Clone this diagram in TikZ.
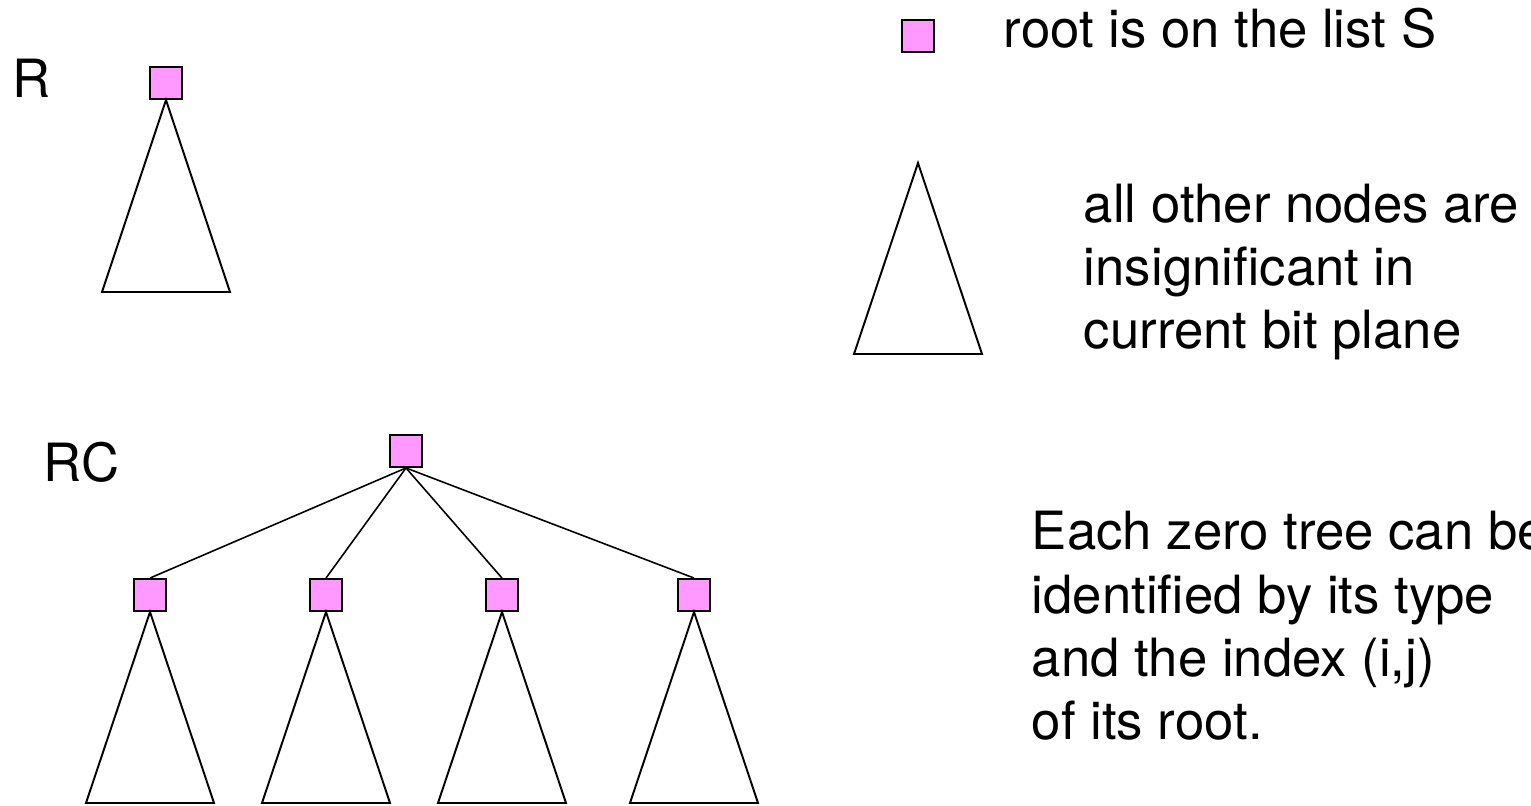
\documentclass[tikz,border=0pt]{standalone}
\usepackage{fontspec}
\setmainfont{TeX Gyre Heros}
\usepackage{tikz}
\usetikzlibrary{positioning}
\definecolor{rootpink}{HTML}{FF99FF}

\begin{document}
\begin{tikzpicture}[
        x=0.02cm, y=-0.02cm, % one unit per pixel, y down
        line width=1.1pt,
        sqnode/.style={rectangle, draw, fill=rootpink, minimum size=0.64cm, inner sep=0pt},
        tri/.style={draw, line join=miter},
        txt/.style={font=\fontsize{30}{36}\selectfont, inner sep=0pt, align=left},
        edge/.style={draw, line width=0.9pt}
      ]
        \useasboundingbox (0,0) rectangle (1531,805);

        % single zero tree R
        \node[txt, anchor=base west] (lblR) at (12,97) {R};
        \node[sqnode] (r) at (166,83) {};
        \draw[tri] (r.south) -- ++(-64,192) -- ++(128,0) -- cycle;

        % tree RC with its four children
        \node[txt, anchor=base west] (lblRC) at (43,481) {RC};
        \node[sqnode] (rc) at (406,451) {};
        \node[sqnode] (c1) at (150,595) {};
        \node[sqnode] (c2) at (326,595) {};
        \node[sqnode] (c3) at (502,595) {};
        \node[sqnode] (c4) at (694,595) {};
        \path (rc.south) edge[edge] (c1.north)
              (rc.south) edge[edge] (c2.north)
              (rc.south) edge[edge] (c3.north)
              (rc.south) edge[edge] (c4.north);
        \draw[tri] (c1.south) -- ++(-64,191) -- ++(128,0) -- cycle;
        \draw[tri] (c2.south) -- ++(-64,191) -- ++(128,0) -- cycle;
        \draw[tri] (c3.south) -- ++(-64,191) -- ++(128,0) -- cycle;
        \draw[tri] (c4.south) -- ++(-64,191) -- ++(128,0) -- cycle;

        % legend
        \node[sqnode] (keysq) at (918,36) {};
        \node[txt, anchor=base west] (keysqtxt) at (1003,47) {root is on the list S};
        \coordinate (keytop) at (918,163);
        \draw[tri] (keytop) -- ++(-64,191) -- ++(128,0) -- cycle;
        \node[txt, anchor=west] (keytritxt) at (1083,272) {all other nodes are\\insignificant in\\current bit plane};

        \node[txt, anchor=west] (note) at (1031,626) {Each zero tree can be\\identified by its type\\and the index (i,j)\\of its root.};
    \end{tikzpicture}
\end{document}
